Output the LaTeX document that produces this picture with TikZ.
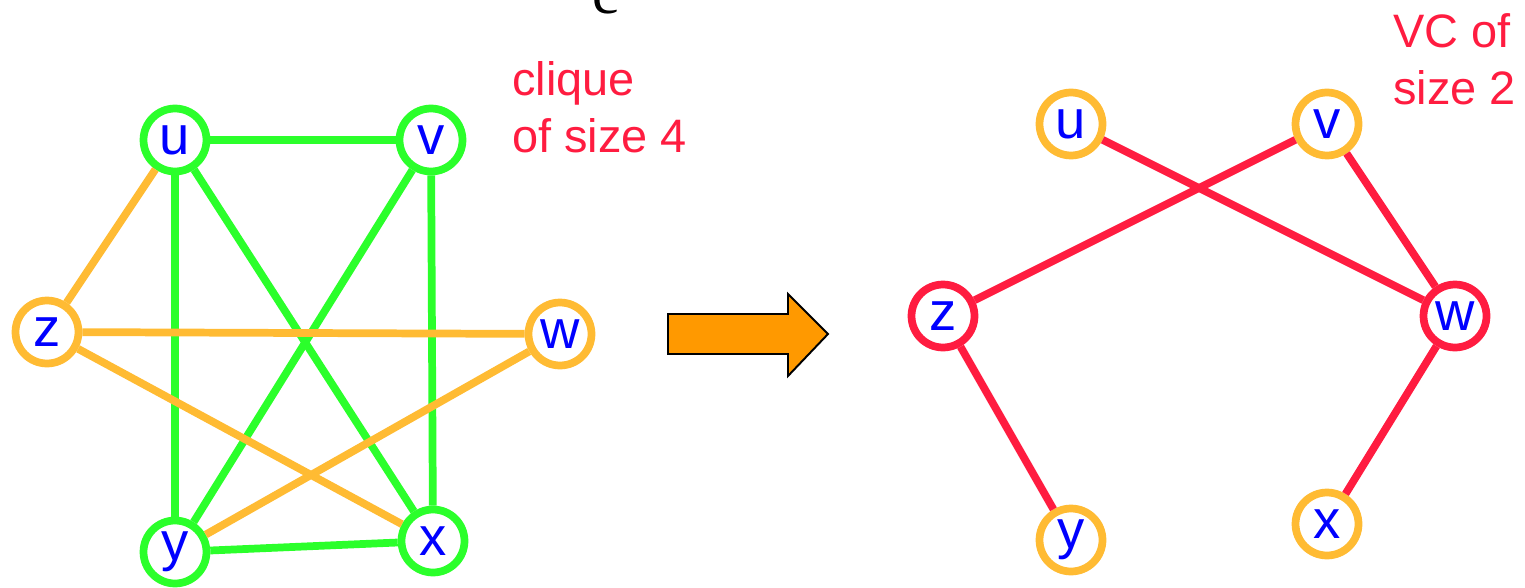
\documentclass[tikz,border=0pt]{standalone}
\usepackage{fontspec}
\newfontfamily\arialfont{Liberation Sans}
\newfontfamily\timesfont{Liberation Serif}
\usetikzlibrary{positioning}
\definecolor{verde}{RGB}{43,255,43}
\definecolor{naranja}{RGB}{255,187,51}
\definecolor{rojo}{RGB}{255,28,64}
\definecolor{flecha}{RGB}{255,153,0}

\begin{document}
\begin{tikzpicture}[x=0.02cm, y=-0.02cm,
  vert/.style={circle, line width=4.4pt, minimum size=1.26cm, inner sep=0pt,
    text=blue, font=\arialfont\fontsize{31}{31}\selectfont},
  enclq/.style={vert, draw=verde},
  fuera/.style={vert, draw=naranja},
  encub/.style={vert, draw=rojo},
  arista/.style={line width=4.4pt},
  rotulo/.style={anchor=base west, align=left, inner sep=0pt, text=rojo,
    font=\arialfont\fontsize{26.7}{32.5}\selectfont}]
\useasboundingbox (0,0) rectangle (1525,588);
% letra cortada arriba
\node[anchor=base, inner sep=0pt, font=\timesfont\fontsize{34}{34}\selectfont] (c) at (606,14) {c};
% Grafo con clique de 4 vertices
\node[enclq] (u1) at (175,140) {u};
\node[enclq] (v1) at (431,140) {v};
\node[fuera] (z1) at (47,332) {z};
\node[fuera] (w1) at (560,334) {w};
\node[enclq] (y1) at (175,552) {y};
\node[enclq] (x1) at (433,541) {x};
\draw[arista, verde] (u1) -- (v1);
\draw[arista, verde] (u1) -- (y1);
\draw[arista, verde] (u1) -- (x1);
\draw[arista, verde] (v1) -- (y1);
\draw[arista, verde] (v1) -- (x1);
\draw[arista, verde] (y1) -- (x1);
\draw[arista, naranja] (z1) -- (u1);
\draw[arista, naranja] (z1) -- (w1);
\draw[arista, naranja] (z1) -- (x1);
\draw[arista, naranja] (w1) -- (y1);
% el ancla base queda en la ultima linea
\node[rotulo] (t1) at (512,153) {clique\\of size 4};
% Flecha naranja
\draw[line width=1.1pt, fill=flecha] (668,314) -- (788,314) -- (788,294) -- (828,334)
  -- (788,376) -- (788,354) -- (668,354) -- cycle;
% Grafo complementario con cubierta de vertices
\node[fuera] (u2) at (1071,124) {u};
\node[fuera] (v2) at (1327,124) {v};
\node[encub] (z2) at (943,316) {z};
\node[encub] (w2) at (1455,316) {w};
\node[fuera] (y2) at (1071,540) {y};
\node[fuera] (x2) at (1327,524) {x};
\draw[arista, rojo] (u2) -- (w2);
\draw[arista, rojo] (v2) -- (z2);
\draw[arista, rojo] (v2) -- (w2);
\draw[arista, rojo] (z2) -- (y2);
\draw[arista, rojo] (w2) -- (x2);
\node[rotulo] (t2) at (1393,105) {VC of\\size 2};
\end{tikzpicture}
\end{document}
